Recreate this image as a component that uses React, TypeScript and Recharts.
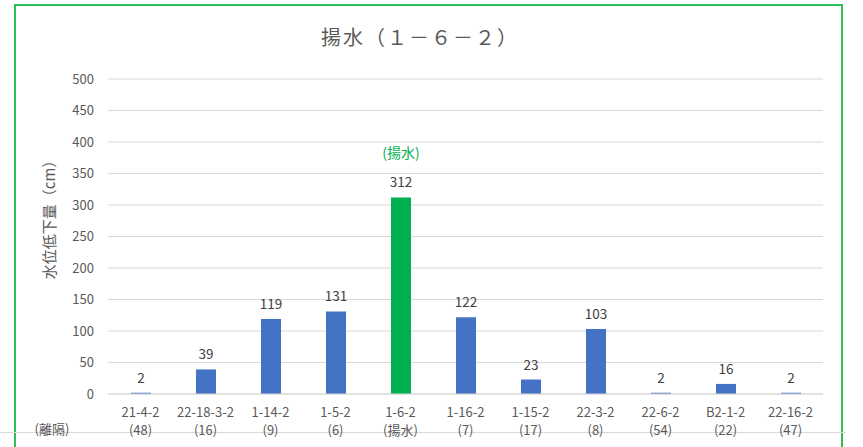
import React from "react";
import { BarChart, Bar, XAxis, YAxis, CartesianGrid, LabelList, Cell } from "recharts";

const categories = ["21-4-2", "22-18-3-2", "1-14-2", "1-5-2", "1-6-2", "1-16-2", "1-15-2", "22-3-2", "22-6-2", "B2-1-2", "22-16-2"];
const separations = ["(48)", "(16)", "(9)", "(6)", "(揚水)", "(7)", "(17)", "(8)", "(54)", "(22)", "(47)"];
const values = [2, 39, 119, 131, 312, 122, 23, 103, 2, 16, 2];
const yTicks = [0, 50, 100, 150, 200, 250, 300, 350, 400, 450, 500];
const pumpCategory = "1-6-2";

const data = categories.map((c, i) => ({ name: c, sep: separations[i], value: values[i] }));

const FONT = "'Noto Sans CJK JP', 'Noto Sans', sans-serif";

const XTick = (props: any) => {
  const { x, y, payload, index } = props;
  return (
    <g>
      <text x={x} y={y + 15} textAnchor="middle" fontSize={13} fill="#595959" fontFamily={FONT}>
        {payload.value}
      </text>
      <text x={x} y={y + 33} textAnchor="middle" fontSize={13} fill="#595959" fontFamily={FONT}>
        {separations[index]}
      </text>
    </g>
  );
};

const ValueLabel = (props: any) => {
  const { x, y, width, value, index } = props;
  const cx = x + width / 2;
  return (
    <g>
      {categories[index] === pumpCategory && (
        <text x={cx} y={y - 39} textAnchor="middle" fontSize={14} fill="#00B050" fontFamily={FONT}>
          (揚水)
        </text>
      )}
      <text x={cx} y={y - 10} textAnchor="middle" fontSize={13.5} fill="#404040" fontFamily={FONT}>
        {value}
      </text>
    </g>
  );
};

export default function App() {
  return (
    <div style={{ position: "absolute", left: 0, top: 0, width: 863, height: 447, background: "#fff", overflow: "hidden" }}>
      <div style={{ position: "absolute", left: 14, top: 4, width: 829, height: 460, border: "2px solid #2DBE5A", boxSizing: "border-box" }} />
      <div style={{ position: "absolute", left: 0, top: 432, width: 846, height: 1, background: "#d9d9d9" }} />
      <div style={{ position: "absolute", left: 0, top: 0 }}>
        <BarChart width={863} height={447} data={data} margin={{ top: 79, right: 40, left: 0, bottom: 0 }}>
          <text x={420} y={45} textAnchor="middle" fontSize={20} letterSpacing={2} fill="#595959" fontFamily={FONT}>
            揚水（１－６－２）
          </text>
          <text x={52} y={434} textAnchor="middle" fontSize={13} fill="#595959" fontFamily={FONT}>
            (離隔)
          </text>
          <text
            x={55}
            y={216}
            textAnchor="middle"
            fontSize={15}
            fill="#595959"
            fontFamily={FONT}
            transform="rotate(-90, 55, 216)"
          >
            水位低下量（cm）
          </text>
          <CartesianGrid vertical={false} stroke="#d9d9d9" />
          <XAxis
            dataKey="name"
            height={53}
            axisLine={{ stroke: "#d9d9d9" }}
            tickLine={false}
            interval={0}
            tick={<XTick />}
          />
          <YAxis
            width={108}
            domain={[0, 500]}
            ticks={yTicks}
            axisLine={false}
            tickLine={false}
            tickMargin={8}
            tick={{ fontSize: 13, fill: "#595959", fontFamily: FONT }}
          />
          <Bar dataKey="value" barSize={20} isAnimationActive={false}>
            {data.map((d, i) => (
              <Cell key={i} fill={d.name === pumpCategory ? "#00B050" : "#4472C4"} />
            ))}
            <LabelList dataKey="value" content={<ValueLabel />} />
          </Bar>
        </BarChart>
      </div>
    </div>
  );
}
